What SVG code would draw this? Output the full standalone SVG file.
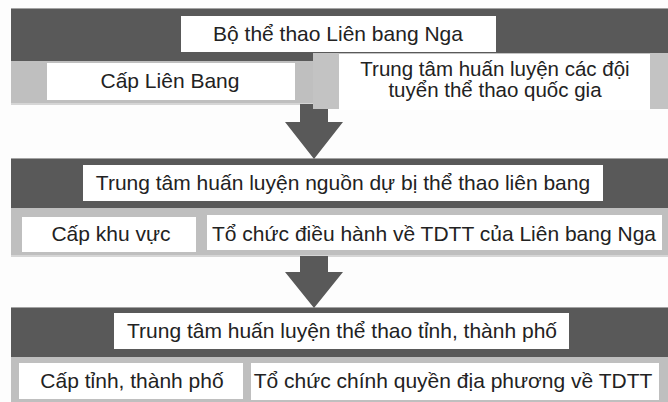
<svg xmlns="http://www.w3.org/2000/svg" width="668" height="402" viewBox="0 0 668 402">
<style>
.dark{fill:#595959}
.light{fill:#bfbfbf}
.edge{fill:#a3a3a3}
.lo{fill:#d6d6d6}
.box{fill:#ffffff}
.ov{fill:#c3c3c3}
.arr{fill:#595959}
text{font-family:"Liberation Sans",Arial,sans-serif;font-size:21px;fill:#222222;text-anchor:middle}
.two{font-size:20.5px}
</style>
<rect width="668" height="402" fill="#fdfdfd"/>
<g id="band1">
<rect class="edge" x="11" y="8" width="657" height="2"/>
<rect class="dark" x="11" y="9" width="657" height="52"/>
<rect class="light" x="11" y="61" width="657" height="43"/>
<rect class="lo" x="11" y="103" width="302" height="2"/>
</g>
<g id="band2">
<rect class="edge" x="11" y="158" width="657" height="2"/>
<rect class="dark" x="11" y="159" width="657" height="49"/>
<rect class="light" x="11" y="208" width="657" height="48"/>
<rect class="lo" x="11" y="255" width="657" height="2"/>
</g>
<g id="band3">
<rect class="edge" x="11" y="307" width="657" height="2"/>
<rect class="dark" x="11" y="308" width="657" height="49"/>
<rect class="light" x="11" y="357" width="657" height="45"/>
</g>
<g id="connectors">
<path class="arr" d="M300,104 H328 V122 H343 L314,159 L285,122 H300 Z"/>
<path class="arr" d="M300,256 H328 V272 H343 L314,308 L285,272 H300 Z"/>
</g>
<g id="n1">
<rect class="box" x="181" y="16" width="315" height="36"/>
<text x="338" y="41">Bộ thể thao Liên bang Nga</text>
</g>
<g id="n2">
<rect class="box" x="47" y="63" width="248" height="37"/>
<text x="170" y="88">Cấp Liên Bang</text>
</g>
<g id="n3">
<rect class="ov" x="313" y="53" width="355" height="56"/>
<rect class="box" x="339" y="54" width="311" height="56"/>
<text class="two" x="495" y="76">Trung tâm huấn luyện các đội</text>
<text class="two" x="495" y="97">tuyển thể thao quốc gia</text>
</g>
<g id="n4">
<rect class="box" x="83" y="165" width="520" height="36"/>
<text x="343" y="190">Trung tâm huấn luyện nguồn dự bị thể thao liên bang</text>
</g>
<g id="n5">
<rect class="box" x="22" y="217" width="174" height="35"/>
<text x="111" y="241">Cấp khu vực</text>
</g>
<g id="n6">
<rect class="box" x="207" y="215" width="455" height="35"/>
<text x="434" y="241">Tổ chức điều hành về TDTT của Liên bang Nga</text>
</g>
<g id="n7">
<rect class="box" x="114" y="313" width="455" height="36"/>
<text x="342" y="338">Trung tâm huấn luyện thể thao tỉnh, thành phố</text>
</g>
<g id="n8">
<rect class="box" x="19" y="363" width="224" height="36"/>
<text x="132" y="388">Cấp tỉnh, thành phố</text>
</g>
<g id="n9">
<rect class="box" x="251" y="363" width="408" height="37"/>
<text x="453" y="388">Tổ chức chính quyền địa phương về TDTT</text>
</g>
</svg>
